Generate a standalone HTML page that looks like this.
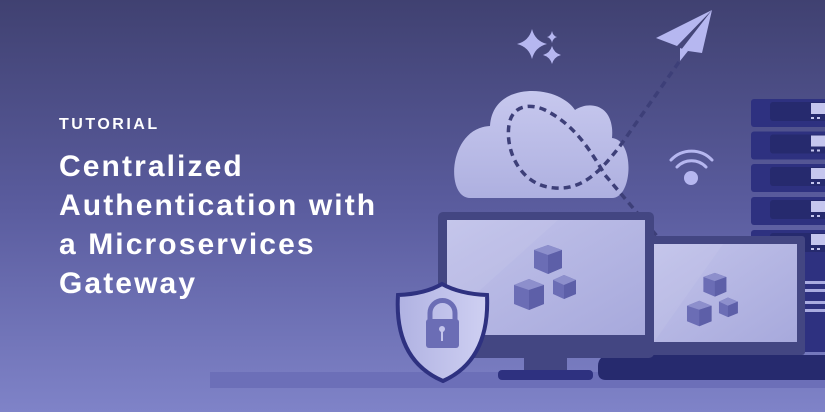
<!DOCTYPE html>
<html><head><meta charset="utf-8"><style>
html,body{margin:0;padding:0}
body{width:825px;height:412px;overflow:hidden;position:relative;font-family:"Liberation Sans",sans-serif}
.t{position:absolute;color:#fff;font-weight:700;white-space:nowrap}
</style></head><body>
<svg width="825" height="412" viewBox="0 0 825 412" style="position:absolute;left:0;top:0">
<defs>
<linearGradient id="bg" x1="0" y1="0" x2="0" y2="1">
<stop offset="0" stop-color="#404171"/><stop offset="0.5" stop-color="#5a5c9e"/><stop offset="1" stop-color="#7f83c8"/>
</linearGradient>
<linearGradient id="cl" x1="0" y1="0" x2="0" y2="1"><stop offset="0" stop-color="#c7c8ee"/><stop offset="1" stop-color="#aeb0e0"/></linearGradient>
<linearGradient id="scr" x1="0" y1="0" x2="1" y2="1"><stop offset="0" stop-color="#c2c3ea"/><stop offset="1" stop-color="#a7a9dc"/></linearGradient>
<linearGradient id="sh" x1="0" y1="0" x2="1" y2="0"><stop offset="0" stop-color="#b0b2e2"/><stop offset="1" stop-color="#cfd0f2"/></linearGradient>
</defs>
<rect width="825" height="412" fill="url(#bg)"/>
<rect x="210" y="372" width="615" height="16" fill="#6c6fb8"/>
<g fill="#b6b7f0">
<path d="M532,29 Q535,41 547,44 Q535,47 532,59 Q529,47 517,44 Q529,41 532,29Z"/>
<path d="M552,46 Q554,53 561,55 Q554,57 552,64 Q550,57 543,55 Q550,53 552,46Z"/>
<path d="M552,31 Q553,36 557,37 Q553,38 552,43 Q551,38 547,37 Q551,36 552,31Z"/>
<path d="M712,10 L656,38 L677,46 Z"/>
<path d="M712,10 L681,50 L702,53 Z"/>
<path d="M680,48 L680,61 L688,51 Z"/>
</g>
<path d="M470,198 C445,198 448,128 490,126 C492,95 520,91 532,91 C555,91 570,102 575,110 C590,100 615,105 612,138 C635,140 633,198 612,198 Z" fill="url(#cl)"/>
<path d="M679,62 L620,146 C600,172 582,190 555,188 C520,186 505,150 509,125 C512,105 530,103 545,110 C575,125 590,150 605,175 L662,242 M800,258 L825,252" fill="none" stroke="#3d3f78" stroke-width="3.5" stroke-dasharray="7,5"/>
<g fill="none" stroke="#b6b7f0" stroke-width="3" stroke-linecap="round">
<path d="M671,160 A28,28 0 0 1 712,160"/>
<path d="M677,167 A20,20 0 0 1 706,167"/>
</g>
<circle cx="691" cy="178" r="7" fill="#b6b7f0"/>
<g>
<rect x="751" y="240" width="74" height="112" fill="#2e3180"/>
<rect x="751" y="281" width="74" height="3" fill="#a9abe0"/>
<rect x="751" y="289" width="74" height="3" fill="#a9abe0"/>
<rect x="751" y="301" width="74" height="3" fill="#a9abe0"/>
<rect x="751" y="309" width="74" height="3" fill="#a9abe0"/>
<g id="u">
<rect x="751" y="99" width="80" height="28" rx="3" fill="#2e3180"/>
<rect x="770" y="102" width="60" height="19" rx="3" fill="#262a6e"/>
<rect x="811" y="103" width="14" height="11" fill="#c5c6ee"/>
<rect x="811" y="117" width="3" height="2" fill="#c5c6ee"/><rect x="817" y="117" width="3" height="2" fill="#c5c6ee"/>
</g>
<use href="#u" y="32.5"/><use href="#u" y="65"/><use href="#u" y="98"/><use href="#u" y="131"/>
</g>
<rect x="651" y="236" width="154" height="119" rx="3" fill="#434682"/>
<rect x="654" y="244" width="143" height="98" fill="url(#scr)"/>
<path d="M654,244 L723,244 L654,342Z" fill="#fff" opacity="0.06"/>
<path d="M598,366 Q598,355 612,355 L825,355 L825,380 L606,380 Q598,380 598,372Z" fill="#262a6e"/>
<rect x="438" y="212" width="216" height="146" rx="5" fill="#434682"/>
<rect x="447" y="220" width="198" height="115" fill="url(#scr)"/>
<path d="M447,220 L558,220 L447,320Z" fill="#fff" opacity="0.06"/>
<rect x="524" y="358" width="43" height="13" fill="#434682"/>
<rect x="498" y="370" width="95" height="10" rx="4" fill="#2e3180"/>
<g id="cb">
<g fill="#6b6db5">
<path d="M534,250 L548,245 L562,250 L562,268 L548,274 L534,268Z"/>
<path d="M514,285 L529,279 L544,285 L544,304 L529,310 L514,304Z"/>
<path d="M553,280 L564,275 L576,280 L576,294 L564,299 L553,294Z"/>
</g>
<g fill="#8d8fcc"><path d="M534,250 L548,255 L562,250 L548,245Z"/><path d="M514,285 L529,290 L544,285 L529,279Z"/><path d="M553,280 L564,285 L576,280 L564,275Z"/></g>
<g fill="#5d5fa8"><path d="M548,255 L562,250 L562,268 L548,274Z"/><path d="M529,290 L544,285 L544,304 L529,310Z"/><path d="M564,285 L576,280 L576,294 L564,299Z"/></g>
</g>
<g transform="translate(265.5,72) scale(0.82)">
<g fill="#6b6db5">
<path d="M534,250 L548,245 L562,250 L562,268 L548,274 L534,268Z"/>
<path d="M514,285 L529,279 L544,285 L544,304 L529,310 L514,304Z"/>
<path d="M553,280 L564,275 L576,280 L576,294 L564,299 L553,294Z"/>
</g>
<g fill="#8d8fcc"><path d="M534,250 L548,255 L562,250 L548,245Z"/><path d="M514,285 L529,290 L544,285 L529,279Z"/><path d="M553,280 L564,285 L576,280 L564,275Z"/></g>
<g fill="#5d5fa8"><path d="M548,255 L562,250 L562,268 L548,274Z"/><path d="M529,290 L544,285 L544,304 L529,310Z"/><path d="M564,285 L576,280 L576,294 L564,299Z"/></g>
</g>
<path d="M442,284 Q425,294 398,295 Q394,360 443,381 Q490,360 487,295 Q460,294 442,284Z" fill="url(#sh)" stroke="#2e3180" stroke-width="4"/>
<rect x="426" y="319" width="33" height="29" rx="3" fill="#6b6db5"/>
<path d="M430,320 L430,313 A12,12 0 0 1 455,313 L455,320" fill="none" stroke="#6b6db5" stroke-width="5"/>
<circle cx="442" cy="329" r="3" fill="#c3c4ec"/>
<rect x="441" y="330" width="2" height="11" fill="#c3c4ec"/>
</svg>
<div class="t" style="left:59px;top:116px;font-size:16px;letter-spacing:2.5px">TUTORIAL</div>
<div class="t" style="left:59px;top:147px;font-size:30px;line-height:39px;letter-spacing:2.1px">Centralized<br>Authentication with<br>a Microservices<br>Gateway</div>
</body></html>
